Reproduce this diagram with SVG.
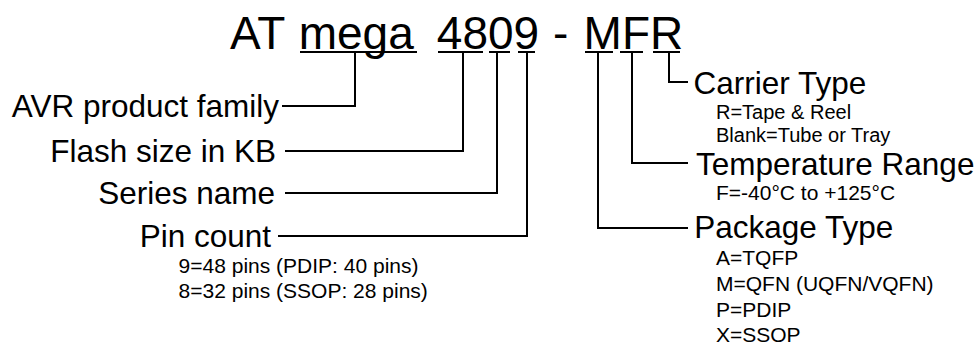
<svg xmlns="http://www.w3.org/2000/svg" width="977" height="346" viewBox="0 0 977 346">
<style>
text { font-family: "Liberation Sans", Arial, sans-serif; fill: #000; }
.title { font-size: 46px; }
.lbl { font-size: 31.5px; }
.sub { font-size: 21px; }
.sub2 { font-size: 20px; }
.ln { fill: none; stroke: #000; stroke-width: 2; stroke-linecap: butt; stroke-linejoin: miter; }
</style>
<rect width="977" height="346" fill="#fff"/>
<g id="title">
<text class="title" y="49"><tspan x="230">AT </tspan><tspan x="298.7">mega </tspan><tspan x="436.8">4809 </tspan><tspan x="553">- </tspan><tspan x="583.6">MFR</tspan></text>
</g>
<g id="avr-family"><text class="lbl" x="279" y="117" text-anchor="end">AVR product family</text></g>
<g id="flash-size"><text class="lbl" x="276" y="162" text-anchor="end">Flash size in KB</text></g>
<g id="series-name"><text class="lbl" x="275" y="204" text-anchor="end">Series name</text></g>
<g id="pin-count">
<text class="lbl" x="271" y="247" text-anchor="end">Pin count</text>
<text class="sub" x="178.6" y="273">9=48 pins (PDIP: 40 pins)</text>
<text class="sub" x="178.6" y="298">8=32 pins (SSOP: 28 pins)</text>
</g>
<g id="carrier-type">
<text class="lbl" x="693.5" y="94">Carrier Type</text>
<text class="sub2" x="716" y="119">R=Tape &amp; Reel</text>
<text class="sub2" x="716" y="141.5">Blank=Tube or Tray</text>
</g>
<g id="temperature-range">
<text class="lbl" x="696" y="175">Temperature Range</text>
<text class="sub" x="716" y="200">F=-40°C to +125°C</text>
</g>
<g id="package-type">
<text class="lbl" x="694.3" y="238">Package Type</text>
<text class="sub" x="716" y="265">A=TQFP</text>
<text class="sub" x="716" y="291">M=QFN (UQFN/VQFN)</text>
<text class="sub" x="716" y="317">P=PDIP</text>
<text class="sub" x="716" y="342">X=SSOP</text>
</g>
<g id="connectors">
<line class="ln" x1="300" y1="52" x2="417" y2="52"/>
<line class="ln" x1="438" y1="52" x2="483" y2="52"/>
<line class="ln" x1="489" y1="52" x2="510" y2="52"/>
<line class="ln" x1="518" y1="52" x2="535" y2="52"/>
<line class="ln" x1="585" y1="52" x2="613" y2="52"/>
<line class="ln" x1="620" y1="52" x2="643" y2="52"/>
<line class="ln" x1="653" y1="52" x2="680" y2="52"/>
<polyline class="ln" points="355,52 355,106 282,106"/>
<polyline class="ln" points="463,52 463,151 285,151"/>
<polyline class="ln" points="497,52 497,193 285,193"/>
<polyline class="ln" points="527,52 527,236 278,236"/>
<polyline class="ln" points="598,52 598,228 688,228"/>
<polyline class="ln" points="632,52 632,163 688,163"/>
<polyline class="ln" points="669,52 669,82 688,82"/>
</g>
</svg>
